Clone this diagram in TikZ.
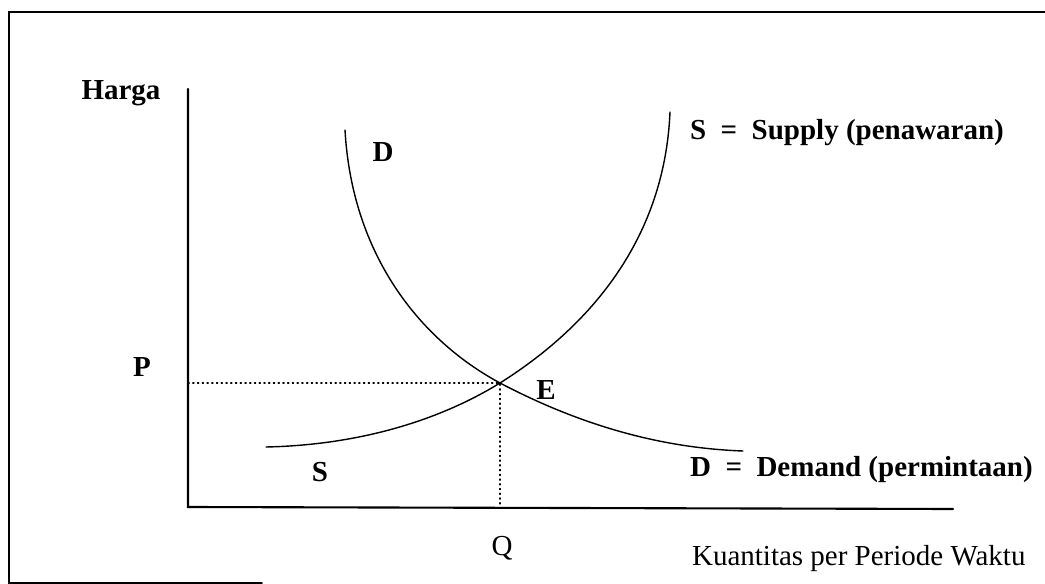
\documentclass[tikz,border=0pt]{standalone}
\usepackage{fontspec}
\setmainfont{Liberation Serif}
\begin{document}
\begin{tikzpicture}[x=0.02cm, y=-0.02cm, line cap=round,
        every node/.style={font=\fontsize{16.5}{19}\selectfont\bfseries, inner sep=1pt},
        curve/.style={line width=0.8pt},
        axis/.style={line width=1.2pt},
        guide/.style={dotted, line width=0.7pt}]
    \useasboundingbox (0,0) rectangle (1045,584);
    % scanned frame: top, left and a piece of the bottom
    \draw[line width=0.9pt] (1045,12) -- (9,12) -- (9,583) -- (262,583);
    \coordinate (ytop) at (188,89);
    \coordinate (O) at (188,507);
    \coordinate (xend) at (953,509);
    \coordinate (E) at (500,383);
    \draw[axis] (ytop) -- (O) -- (xend);
    % demand and supply curves, both through E
    \draw[curve] (345,130) .. controls (352,255) and (420,340) .. (E)
        .. controls (580,425) and (660,448) .. (743,451);
    \draw[curve] (266,447) .. controls (360,445) and (440,420) .. (E)
        .. controls (600,320) and (665,230) .. (670,112);
    \draw[guide] (O |- E) -- (E) -- (E |- O);
    \node (harga) at (121,93) {Harga};
    \node (plab) at (142,367) {P};
    \node (qlab) at (502,548) {\mdseries Q};
    \node (elab) at (546,390) {E};
    \node (dlab) at (383,152) {D};
    \node (slab) at (320,472) {S};
    \node[anchor=west] (supply) at (688,133) {S\enspace=\enspace Supply (penawaran)};
    \node[anchor=west] (demand) at (688,470) {D\enspace=\enspace Demand (permintaan)};
    \node[anchor=west, font=\fontsize{16.5}{19}\selectfont] (kuant) at (690,559) {Kuantitas per Periode Waktu};
\end{tikzpicture}
\end{document}
